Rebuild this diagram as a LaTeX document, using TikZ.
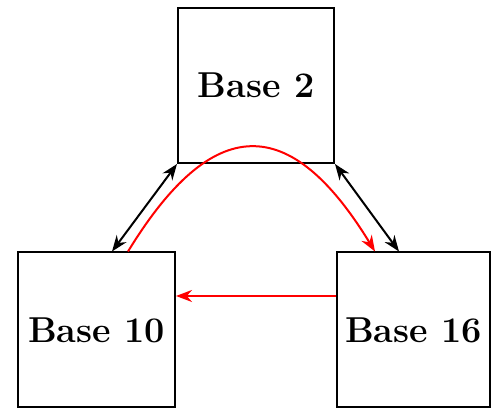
\documentclass[tikz,border=0pt]{standalone}
\usetikzlibrary{arrows.meta}
\begin{document}
\begin{tikzpicture}[x=1pt,y=1pt,
  >={Stealth[length=16pt,width=12pt]},
  basebox/.style={draw,line width=2pt,inner sep=0pt,minimum width=#1,minimum height=155pt,
    font=\fontsize{36}{40}\selectfont\bfseries},
  blackarrow/.style={line width=2pt,<->},
  redarrow/.style={red,line width=2pt,->}]
\useasboundingbox (0,0) rectangle (499,412);
\node[basebox=156pt] (top) at (256,326.5) {Base 2};
\node[basebox=157pt] (left) at (96.5,82) {Base 10};
\node[basebox=153pt] (right) at (413.5,82) {Base 16};
\coordinate (la) at ([xshift=95pt]left.north west);
\coordinate (ra) at ([xshift=63pt]right.north west);
\coordinate (rs) at ([xshift=111pt]left.north west);
\coordinate (re) at ([xshift=39pt]right.north west);
\draw[blackarrow] (top.south west) -- (la);
\draw[blackarrow] (top.south east) -- (ra);
\draw[redarrow] (rs) .. controls ([xshift=85pt,yshift=139pt]rs) and ([xshift=-85pt,yshift=139pt]re) .. (re);
\draw[redarrow] ([yshift=34pt]right.west) -- ([yshift=34pt]left.east);
\end{tikzpicture}
\end{document}
